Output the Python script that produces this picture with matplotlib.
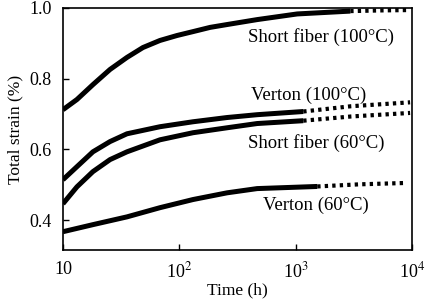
import numpy as np
import matplotlib
matplotlib.use('Agg')
import matplotlib.pyplot as plt

plt.rcParams['font.family'] = ['Liberation Serif', 'DejaVu Serif']
plt.rcParams['mathtext.fontset'] = 'stix'
plt.rcParams['font.size'] = 13

#%% data (time in h, total strain in %)
t_read = [10, 13.2, 18.1, 25.4, 35.5, 48.7, 68.2, 95.5, 131, 184, 257, 466]

sf100_t = t_read + [1030, 2940]
sf100_y = [0.712, 0.741, 0.783, 0.826, 0.860, 0.888, 0.908, 0.922, 0.933,
           0.945, 0.953, 0.967, 0.983, 0.991]
sf100_ext_t = [2940, 5500, 9600]
sf100_ext_y = [0.991, 0.993, 0.994]

vt100_t = [10, 13.2, 18.1, 25.4, 35.5, 68.2, 131, 257, 466, 1160]
vt100_y = [0.514, 0.551, 0.593, 0.622, 0.644, 0.664, 0.678, 0.690, 0.698, 0.707]
vt100_ext_t = [1160, 3000, 9600]
vt100_ext_y = [0.707, 0.722, 0.733]

sf60_t = [10, 13.2, 18.1, 25.4, 35.5, 68.2, 131, 257, 466, 1160]
sf60_y = [0.446, 0.494, 0.537, 0.571, 0.593, 0.627, 0.647, 0.661, 0.673, 0.681]
sf60_ext_t = [1160, 3000, 9600]
sf60_ext_y = [0.681, 0.693, 0.703]

vt60_t = [10, 18.1, 35.5, 68.2, 131, 257, 466, 1530]
vt60_y = [0.367, 0.387, 0.409, 0.435, 0.458, 0.477, 0.489, 0.495]
vt60_ext_t = [1530, 3500, 9000]
vt60_ext_y = [0.495, 0.501, 0.505]

labels = ['Short fiber (100°C)', 'Verton (100°C)', 'Short fiber (60°C)', 'Verton (60°C)']
label_pos = [(390, 0.918), (414, 0.754), (390, 0.618), (525, 0.442)]

xticks = [10, 100, 1000, 10000]
xticklabels = ['10', r'10$^2$', r'10$^3$', r'10$^4$']
yticks = [0.4, 0.6, 0.8, 1.0]
yticklabels = ['0.4', '0.6', '0.8', '1.0']

#%% plot
fig = plt.figure(figsize=(4.28, 3.05), dpi=100)
ax = fig.add_axes([0.147, 0.180, 0.816, 0.794])

series = [
    (sf100_t, sf100_y, sf100_ext_t, sf100_ext_y),
    (vt100_t, vt100_y, vt100_ext_t, vt100_ext_y),
    (sf60_t, sf60_y, sf60_ext_t, sf60_ext_y),
    (vt60_t, vt60_y, vt60_ext_t, vt60_ext_y),
]
for t, y, te, ye in series:
    ax.plot(t, y, 'k-', linewidth=3.6, solid_capstyle='butt', solid_joinstyle='round')
    ax.plot(te, ye, color='k', linestyle=(0, (0.8, 1.0)), linewidth=3.0)

for lab, (tx, ty) in zip(labels, label_pos):
    ax.text(tx, ty, lab, ha='left', va='center', fontsize=13.5)

ax.set_xscale('log')
ax.set_xlim(10, 10000)
ax.set_ylim(0.315, 1.0)
ax.set_xticks(xticks)
ax.set_xticklabels(xticklabels)
ax.xaxis.set_minor_locator(matplotlib.ticker.NullLocator())
ax.set_yticks(yticks)
ax.set_yticklabels(yticklabels)
ax.tick_params(direction='in', length=4, width=1, labelsize=13, pad=8)
for s in ax.spines.values():
    s.set_linewidth(1.2)

ax.set_xlabel('Time (h)', fontsize=12.5, labelpad=1)
ax.set_ylabel('Total strain (%)', fontsize=12.5, labelpad=4)

fig.savefig('out.png', dpi=100)
